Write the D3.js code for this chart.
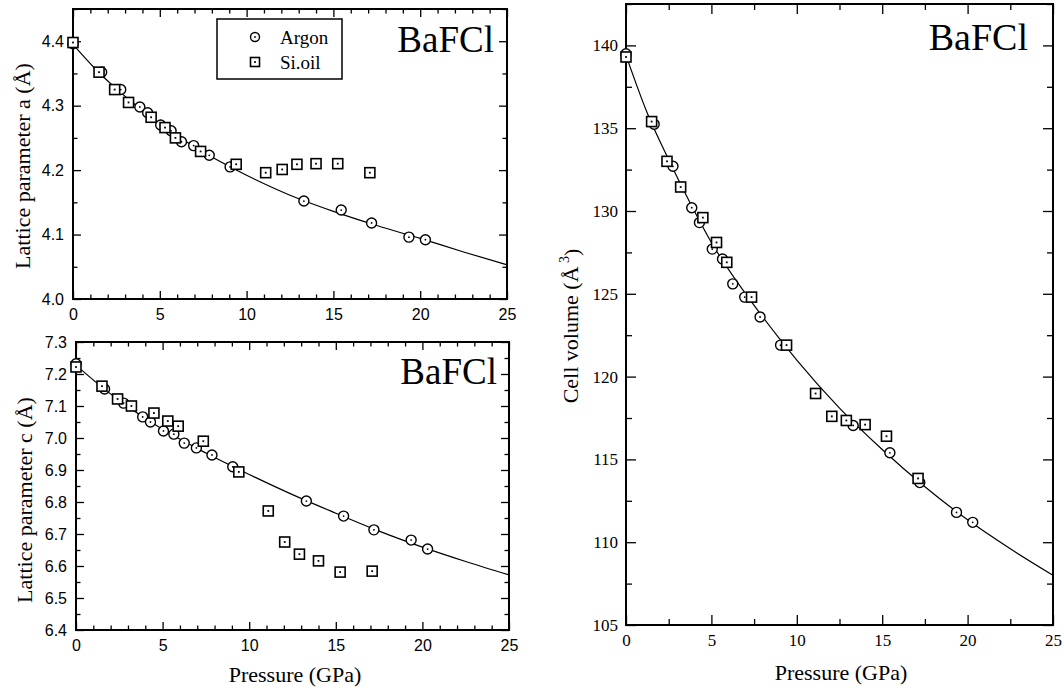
<!DOCTYPE html>
<html>
<head>
<meta charset="utf-8">
<script src="https://cdn.jsdelivr.net/npm/d3@7"></script>
<style>
  body { margin: 0; background: #fff; }
</style>
</head>
<body>
<svg id="chart" width="1064" height="692"></svg>
<script>
// values (pressure in GPa)
const argonP = [0, 1.65, 2.75, 3.85, 4.3, 5.05, 5.65, 6.25, 6.95, 7.85, 9.05, 13.3, 15.45, 17.2, 19.35, 20.3];
const argonA = [4.396, 4.352, 4.325, 4.298, 4.289, 4.270, 4.261, 4.244, 4.238, 4.223, 4.205, 4.152, 4.138, 4.118, 4.096, 4.092];
const argonC = [7.232, 7.153, 7.109, 7.066, 7.050, 7.022, 7.012, 6.984, 6.969, 6.947, 6.910, 6.803, 6.756, 6.713, 6.681, 6.653];
const argonV = [139.5, 135.24, 132.7, 130.2, 129.3, 127.7, 127.1, 125.6, 124.8, 123.6, 121.9, 117.05, 115.4, 113.6, 111.8, 111.2];

const oilP = [0, 1.5, 2.4, 3.2, 4.5, 5.3, 5.9, 7.35, 9.4, 11.1, 12.05, 12.9, 14.0, 15.25, 17.1];
const oilA = [4.398, 4.352, 4.325, 4.305, 4.282, 4.266, 4.250, 4.229, 4.209, 4.196, 4.201, 4.209, 4.210, 4.210, 4.196];
const oilC = [7.222, 7.162, 7.122, 7.100, 7.078, 7.053, 7.037, 6.990, 6.894, 6.772, 6.675, 6.637, 6.616, 6.581, 6.584];
const oilV = [139.3, 135.4, 133.0, 131.45, 129.6, 128.1, 126.9, 124.8, 121.9, 118.98, 117.6, 117.35, 117.1, 116.4, 113.85];

// fitted equation-of-state curves, sampled from the figure
const fitP = [0, 1.25, 2.5, 3.75, 5, 7.5, 10, 12.5, 15, 17.5, 20, 22.5, 25];
const fitA = [4.395, 4.358, 4.326, 4.298, 4.272, 4.228, 4.192, 4.161, 4.136, 4.114, 4.094, 4.073, 4.053];
const fitC = [7.228, 7.170, 7.117, 7.070, 7.027, 6.953, 6.886, 6.823, 6.765, 6.709, 6.659, 6.614, 6.572];
const fitV = [139.4, 135.9, 133.1, 130.5, 128.1, 124.3, 121.0, 118.1, 115.6, 113.35, 111.35, 109.6, 108.0];

const xTicks = [0, 5, 10, 15, 20, 25];
const legendItems = ["Argon", "Si.oil"];

const serif = "'Liberation Serif','Times New Roman',Times,serif";
const sans = "'Liberation Sans',Arial,Helvetica,sans-serif";

const svg = d3.select("#chart");

function drawPanel(o) {
    const x = d3.scaleLinear().domain([0, 25]).range([o.left, o.right]);
    const y = d3.scaleLinear().domain(o.yDomain).range([o.bottom, o.top]);
    const g = svg.append("g");

    const notMajor = (majors) => (v) => !majors.some(m => Math.abs(m - v) < 1e-6);
    const xMinor = d3.range(0, 25.001, o.xMinorStep).filter(notMajor(xTicks));
    const yMinor = d3.range(o.yDomain[0], o.yDomain[1] + 1e-6, o.yMinorStep).filter(notMajor(o.yTicks));

    const style = (sel, font, size) => {
        sel.select(".domain").remove();
        sel.selectAll("line").attr("stroke", "#000").attr("stroke-width", 1.3);
        sel.attr("font-family", font).attr("font-size", size);
        sel.selectAll("text").attr("fill", "#000");
    };

    // bottom axis
    g.append("g").attr("transform", `translate(0,${o.bottom})`)
        .call(d3.axisBottom(x).tickValues(xTicks).tickSize(-o.major).tickPadding(o.xPad).tickFormat(d3.format("d")))
        .call(s => style(s, o.tickFont, o.tickSize));
    g.append("g").attr("transform", `translate(0,${o.bottom})`)
        .call(d3.axisBottom(x).tickValues(xMinor).tickSize(-o.minor).tickFormat(""))
        .call(s => style(s, o.tickFont, o.tickSize));
    // top axis
    g.append("g").attr("transform", `translate(0,${o.top})`)
        .call(d3.axisTop(x).tickValues(xTicks).tickSize(-o.major).tickFormat(""))
        .call(s => style(s, o.tickFont, o.tickSize));
    g.append("g").attr("transform", `translate(0,${o.top})`)
        .call(d3.axisTop(x).tickValues(xMinor).tickSize(-o.minor).tickFormat(""))
        .call(s => style(s, o.tickFont, o.tickSize));
    // left axis
    g.append("g").attr("transform", `translate(${o.left},0)`)
        .call(d3.axisLeft(y).tickValues(o.yTicks).tickSize(-o.major).tickPadding(o.yPad).tickFormat(d3.format(o.yFormat)))
        .call(s => style(s, o.tickFont, o.tickSize));
    g.append("g").attr("transform", `translate(${o.left},0)`)
        .call(d3.axisLeft(y).tickValues(yMinor).tickSize(-o.minor).tickFormat(""))
        .call(s => style(s, o.tickFont, o.tickSize));
    // right axis
    g.append("g").attr("transform", `translate(${o.right},0)`)
        .call(d3.axisRight(y).tickValues(o.yTicks).tickSize(-o.major).tickFormat(""))
        .call(s => style(s, o.tickFont, o.tickSize));
    g.append("g").attr("transform", `translate(${o.right},0)`)
        .call(d3.axisRight(y).tickValues(yMinor).tickSize(-o.minor).tickFormat(""))
        .call(s => style(s, o.tickFont, o.tickSize));

    // frame
    g.append("rect")
        .attr("x", o.left).attr("y", o.top)
        .attr("width", o.right - o.left).attr("height", o.bottom - o.top)
        .attr("fill", "none").attr("stroke", "#000").attr("stroke-width", 2);

    // fit curve
    const line = d3.line().x(d => x(d[0])).y(d => y(d[1])).curve(d3.curveMonotoneX);
    g.append("path")
        .datum(d3.zip(fitP, o.fit))
        .attr("d", line)
        .attr("fill", "none").attr("stroke", "#000").attr("stroke-width", 1.2);

    // argon: open circles with a dot
    const circ = g.selectAll("g.argon").data(d3.zip(argonP, o.argon)).join("g")
        .attr("class", "argon")
        .attr("transform", d => `translate(${x(d[0])},${y(d[1])})`);
    circ.append("circle").attr("r", 5).attr("fill", "#fff").attr("stroke", "#000").attr("stroke-width", 1.4);
    circ.append("circle").attr("r", 0.9).attr("fill", "#000");

    // Si oil: open squares with a dot
    const sq = g.selectAll("g.oil").data(d3.zip(oilP, o.oil)).join("g")
        .attr("class", "oil")
        .attr("transform", d => `translate(${x(d[0])},${y(d[1])})`);
    sq.append("rect").attr("x", -5).attr("y", -5).attr("width", 10).attr("height", 10)
        .attr("fill", "#fff").attr("stroke", "#000").attr("stroke-width", 1.6);
    sq.append("rect").attr("x", -0.9).attr("y", -0.9).attr("width", 1.8).attr("height", 1.8).attr("fill", "#000");

    // compound label
    g.append("text")
        .attr("x", o.nameX).attr("y", o.nameY)
        .attr("text-anchor", "end")
        .attr("font-family", serif).attr("font-size", o.nameSize)
        .text("BaFCl");

    return { g, x, y };
}

// lattice parameter a
drawPanel({
    left: 73, right: 507, top: 9, bottom: 299,
    yDomain: [4.0, 4.45], yTicks: [4.0, 4.1, 4.2, 4.3, 4.4], yMinorStep: 0.05, yFormat: ".1f",
    xMinorStep: 1, major: 8, minor: 4.5, xPad: 10, yPad: 9,
    tickFont: sans, tickSize: 16,
    fit: fitA, argon: argonA, oil: oilA,
    nameX: 494, nameY: 52, nameSize: 37
});

// lattice parameter c
drawPanel({
    left: 76, right: 509, top: 342, bottom: 630,
    yDomain: [6.4, 7.3], yTicks: d3.range(6.4, 7.3001, 0.1), yMinorStep: 0.05, yFormat: ".1f",
    xMinorStep: 1, major: 8, minor: 4.5, xPad: 10, yPad: 9,
    tickFont: sans, tickSize: 16,
    fit: fitC, argon: argonC, oil: oilC,
    nameX: 497, nameY: 384, nameSize: 37
});

// cell volume
drawPanel({
    left: 626, right: 1053, top: 4, bottom: 625,
    yDomain: [105, 142.5], yTicks: d3.range(105, 140.001, 5), yMinorStep: 2.5, yFormat: "d",
    xMinorStep: 2.5, major: 10, minor: 6, xPad: 9, yPad: 8,
    tickFont: serif, tickSize: 17,
    fit: fitV, argon: argonV, oil: oilV,
    nameX: 1028, nameY: 50, nameSize: 38
});

// axis titles
const titles = svg.append("g").attr("font-family", serif).attr("font-size", 22).attr("fill", "#000");
titles.append("text").attr("transform", "translate(22,166) rotate(-90)").attr("dy", "0.35em")
    .attr("text-anchor", "middle").text("Lattice parameter a (Å)");
titles.append("text").attr("transform", "translate(24,500) rotate(-90)").attr("dy", "0.35em")
    .attr("text-anchor", "middle").text("Lattice parameter c (Å)");
const vt = titles.append("text").attr("transform", "translate(570,326) rotate(-90)").attr("dy", "0.35em")
    .attr("text-anchor", "middle");
vt.append("tspan").text("Cell volume (Å");
vt.append("tspan").attr("font-size", 14).attr("dy", "-0.6em").text(" 3");
vt.append("tspan").attr("dy", "0.45em").text(")");
titles.append("text").attr("x", 295).attr("y", 682).attr("text-anchor", "middle").text("Pressure (GPa)");
titles.append("text").attr("x", 841).attr("y", 680).attr("text-anchor", "middle").text("Pressure (GPa)");

// legend
const lg = svg.append("g");
lg.append("rect").attr("x", 217).attr("y", 19).attr("width", 125).attr("height", 60)
    .attr("fill", "#fff").attr("stroke", "#000").attr("stroke-width", 1.5);
const items = lg.selectAll("g.item").data(legendItems).join("g")
    .attr("class", "item")
    .attr("transform", (d, i) => `translate(255,${37 + i * 25})`);
items.filter((d, i) => i === 0).call(s => {
    s.append("circle").attr("r", 4.5).attr("fill", "#fff").attr("stroke", "#000").attr("stroke-width", 1.4);
    s.append("circle").attr("r", 0.9).attr("fill", "#000");
});
items.filter((d, i) => i === 1).call(s => {
    s.append("rect").attr("x", -4.5).attr("y", -4.5).attr("width", 9).attr("height", 9)
        .attr("fill", "#fff").attr("stroke", "#000").attr("stroke-width", 1.6);
    s.append("rect").attr("x", -0.9).attr("y", -0.9).attr("width", 1.8).attr("height", 1.8).attr("fill", "#000");
});
items.append("text").attr("x", 25).attr("y", 7)
    .attr("font-family", serif).attr("font-size", 19).text(d => d);
</script>
</body>
</html>
